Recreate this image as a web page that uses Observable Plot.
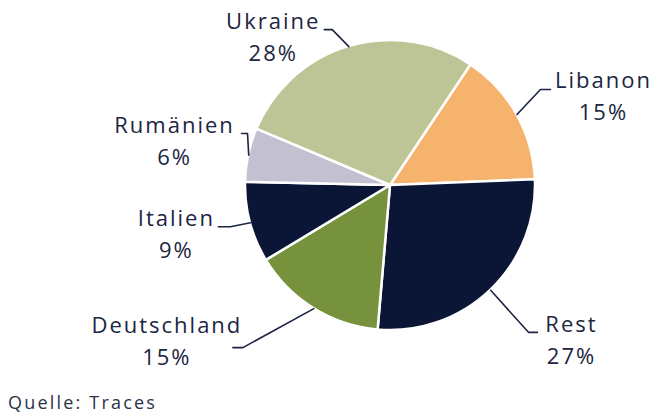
<!DOCTYPE html>
<html><head><meta charset="utf-8">
<script src="https://cdn.jsdelivr.net/npm/d3@7"></script>
<script src="https://cdn.jsdelivr.net/npm/@observablehq/plot@0.6"></script>
<style>
body{margin:0;background:#fff;font-family:"Open Sans",sans-serif;}
#caption{font-size:18px;letter-spacing:2.2px;color:#2b3346;margin:3px 0 0 8px;line-height:22px}
</style></head><body><div id="chart"></div><div id="caption">Quelle: Traces</div>
<script>
// Data (clockwise from top-right)
const categories = ["Libanon", "Rest", "Deutschland", "Italien", "Rumänien", "Ukraine"];
const shares = [15, 27, 15, 9, 6, 28];
const percentLabels = ["15%", "27%", "15%", "9%", "6%", "28%"];
const colors = ["#f6b36e", "#0b1636", "#76923c", "#0b1636", "#c3c1d1", "#bdc596"];

// Layout (pixels): leader elbow offset from slice edge, horizontal run, text offset from leader end
const layout = {
  "Libanon":     {ex: 23.5, ey: -25, run: 10, tx: 52, ty: -2},
  "Rest":        {ex: 37.8, ey: 42, run: 9, tx: 33, ty: 0},
  "Deutschland": {ex: -71, ey: 39, run: -10, tx: -67, ty: -15},
  "Italien":     {ex: -20, ey: 4, run: -12, tx: -43, ty: -1},
  "Rumänien":    {ex: -1.2, ey: -21.6, run: -6, tx: -68, ty: -1},
  "Ukraine":     {ex: -16.6, ey: -17, run: -8, tx: -52, ty: -1}
};

const W = 653, H = 388, CX = 390, CY = 185, R = 145;
const startDeg = 33.7;

const data = categories.map((c, i) => ({cat: c, value: shares[i], pct: percentLabels[i], color: colors[i]}));
const arcs = d3.pie().sort(null).value(d => d.value)
  .startAngle(startDeg * Math.PI / 180).endAngle(startDeg * Math.PI / 180 + 2 * Math.PI)(data);

const leaders = [];
const labels = [];
arcs.forEach(a => {
  const m = (a.startAngle + a.endAngle) / 2;
  const L = layout[a.data.cat];
  const ix = R * Math.sin(m), iy = R * Math.cos(m);
  const exx = ix + L.ex, eyy = iy - L.ey;
  const enx = exx + L.run, eny = eyy;
  leaders.push({cat: a.data.cat, x: ix, y: iy}, {cat: a.data.cat, x: exx, y: eyy}, {cat: a.data.cat, x: enx, y: eny});
  labels.push({cat: a.data.cat, pct: a.data.pct, x: enx + L.tx, y: eny - L.ty});
});

function pieSlices(index, scales) {
  const cx = scales.x(0), cy = scales.y(0), r = scales.x(R) - scales.x(0);
  const arc = d3.arc().innerRadius(0).outerRadius(r);
  const g = d3.create("svg:g").attr("transform", `translate(${cx},${cy})`);
  g.selectAll("path").data(arcs).join("path")
    .attr("d", arc)
    .attr("fill", d => d.data.color)
    .attr("stroke", "white")
    .attr("stroke-width", 2.5)
    .attr("stroke-linejoin", "round");
  return g.node();
}

const textColor = "#1c2541";
const chart = Plot.plot({
  width: W, height: H,
  margin: 0,
  x: {domain: [-CX, W - CX], axis: null},
  y: {domain: [-(H - CY), CY], axis: null},
  style: {fontFamily: "'Open Sans', sans-serif", background: "white", letterSpacing: "2px"},
  marks: [
    pieSlices,
    Plot.line(leaders, {x: "x", y: "y", z: "cat", stroke: textColor, strokeWidth: 1.6, curve: "linear"}),
    Plot.text(labels, {x: "x", y: "y", text: "cat", textAnchor: "middle", lineAnchor: "bottom", dx: 1, fontSize: 22, fill: textColor}),
    Plot.text(labels, {x: "x", y: "y", text: "pct", textAnchor: "middle", lineAnchor: "bottom", dx: 1, dy: 32, fontSize: 22, fill: textColor})
  ]
});
document.getElementById("chart").appendChild(chart);
</script>
</body></html>
